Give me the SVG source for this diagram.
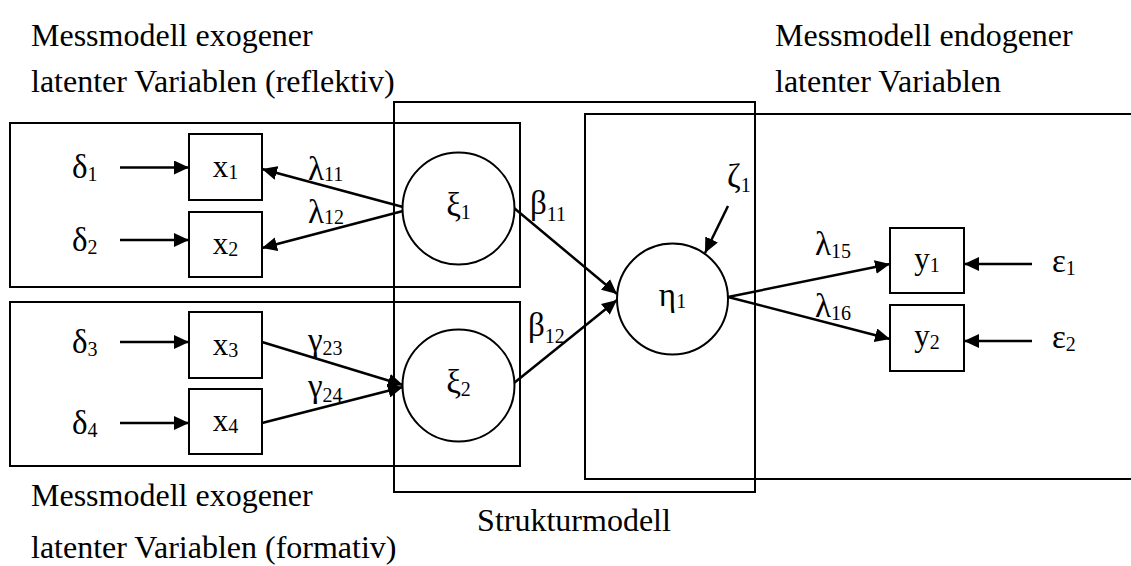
<svg xmlns="http://www.w3.org/2000/svg" width="1131" height="566" viewBox="0 0 1131 566">
<style>
  text { font-family: "Liberation Serif", "Times New Roman", serif; font-size: 31px; fill: #000; }
  .title { font-size: 32px; }
  .gr { font-size: 33px; }
  .sub { font-size: 20px; }
  .frame { fill: none; stroke: #000; stroke-width: 2; }
  .box { fill: #fff; stroke: #000; stroke-width: 2; }
  .lv { fill: #fff; stroke: #000; stroke-width: 2; }
  .arr { fill: none; stroke: #000; stroke-width: 2.5; marker-end: url(#ah); }
  .mid { text-anchor: middle; }
</style>
<defs>
  <marker id="ah" markerUnits="userSpaceOnUse" markerWidth="15" markerHeight="14" refX="15" refY="7" orient="auto">
    <path d="M0,0 L15,7 L0,14 z" fill="#000"/>
  </marker>
</defs>
<rect width="1131" height="566" fill="#fff"/>

<g id="frames">
  <rect id="frame-reflektiv" class="frame" x="10" y="123" width="510" height="164"/>
  <rect id="frame-formativ" class="frame" x="10" y="302" width="510" height="164"/>
  <rect id="frame-struktur" class="frame" x="394" y="102" width="361" height="390"/>
  <path id="frame-endogen" class="frame" d="M1135,114 H585 V479 H1135"/>
</g>

<g id="titles">
  <text class="title" x="31" y="46">Messmodell exogener</text>
  <text class="title" x="31" y="92">latenter Variablen (reflektiv)</text>
  <text class="title" x="775" y="46">Messmodell endogener</text>
  <text class="title" x="775" y="92">latenter Variablen</text>
  <text class="title" x="31" y="506">Messmodell exogener</text>
  <text class="title" x="31" y="558">latenter Variablen (formativ)</text>
  <text class="title mid" x="574" y="531">Strukturmodell</text>
</g>

<g id="connectors">
  <line class="arr" x1="120" y1="167.5" x2="189" y2="167.5"/>
  <line class="arr" x1="120" y1="240" x2="189" y2="240"/>
  <line class="arr" x1="120" y1="342" x2="189" y2="342"/>
  <line class="arr" x1="120" y1="423" x2="189" y2="423"/>
  <line class="arr" x1="403" y1="207" x2="262" y2="169"/>
  <line class="arr" x1="403" y1="211" x2="262" y2="248"/>
  <line class="arr" x1="262" y1="342" x2="403" y2="385"/>
  <line class="arr" x1="262" y1="423" x2="403" y2="387"/>
  <line class="arr" x1="514" y1="208" x2="617" y2="294"/>
  <line class="arr" x1="514" y1="383" x2="617" y2="300"/>
  <line class="arr" x1="728" y1="206" x2="705" y2="253"/>
  <line class="arr" x1="728" y1="297" x2="890" y2="264"/>
  <line class="arr" x1="728" y1="297" x2="890" y2="339"/>
  <line class="arr" x1="1032" y1="264" x2="964" y2="264"/>
  <line class="arr" x1="1032" y1="341" x2="964" y2="341"/>
</g>

<g id="node-x1"><rect class="box" x="189" y="134" width="73" height="66"/><text x="225.5" y="177" class="mid">x<tspan class="sub" dy="2">1</tspan></text></g>
<g id="node-x2"><rect class="box" x="189" y="212" width="73" height="65"/><text x="225.5" y="254" class="mid">x<tspan class="sub" dy="2">2</tspan></text></g>
<g id="node-x3"><rect class="box" x="189" y="312" width="73" height="66"/><text x="225.5" y="355" class="mid">x<tspan class="sub" dy="2">3</tspan></text></g>
<g id="node-x4"><rect class="box" x="189" y="389" width="73" height="65"/><text x="225.5" y="431" class="mid">x<tspan class="sub" dy="2">4</tspan></text></g>
<g id="node-y1"><rect class="box" x="890" y="228" width="74" height="65"/><text x="927" y="269" class="mid">y<tspan class="sub" dy="3">1</tspan></text></g>
<g id="node-y2"><rect class="box" x="890" y="305" width="74" height="66"/><text x="927" y="346" class="mid">y<tspan class="sub" dy="3">2</tspan></text></g>

<g id="node-xi1"><circle class="lv" cx="458.5" cy="208.5" r="56"/><text x="458.5" y="216" class="mid gr">ξ<tspan class="sub" dy="3">1</tspan></text></g>
<g id="node-xi2"><circle class="lv" cx="458.5" cy="385.5" r="56"/><text x="458.5" y="393" class="mid gr">ξ<tspan class="sub" dy="3">2</tspan></text></g>
<g id="node-eta1"><circle class="lv" cx="672.5" cy="299" r="55.5"/><text x="672.5" y="306" class="mid gr">η<tspan class="sub" dy="2">1</tspan></text></g>

<g id="labels">
  <text class="gr" x="72" y="178">δ<tspan class="sub" dy="3">1</tspan></text>
  <text class="gr" x="72" y="251">δ<tspan class="sub" dy="3">2</tspan></text>
  <text class="gr" x="72" y="353">δ<tspan class="sub" dy="3">3</tspan></text>
  <text class="gr" x="72" y="434">δ<tspan class="sub" dy="3">4</tspan></text>
  <text class="gr" x="308" y="180">λ<tspan class="sub" dy="1">11</tspan></text>
  <text class="gr" x="308" y="223">λ<tspan class="sub" dy="1">12</tspan></text>
  <text class="gr" x="308" y="351">γ<tspan class="sub" dy="4">23</tspan></text>
  <text class="gr" x="308" y="397">γ<tspan class="sub" dy="5">24</tspan></text>
  <text class="gr" x="530" y="214">β<tspan class="sub" dy="7">11</tspan></text>
  <text class="gr" x="528" y="336">β<tspan class="sub" dy="7">12</tspan></text>
  <text class="gr" x="727" y="187">ζ<tspan class="sub" dy="5">1</tspan></text>
  <text class="gr" x="815" y="255">λ<tspan class="sub" dy="3">15</tspan></text>
  <text class="gr" x="815" y="317">λ<tspan class="sub" dy="3">16</tspan></text>
  <text class="gr" x="1052" y="272">ε<tspan class="sub" dy="3">1</tspan></text>
  <text class="gr" x="1052" y="348">ε<tspan class="sub" dy="3">2</tspan></text>
</g>
</svg>
